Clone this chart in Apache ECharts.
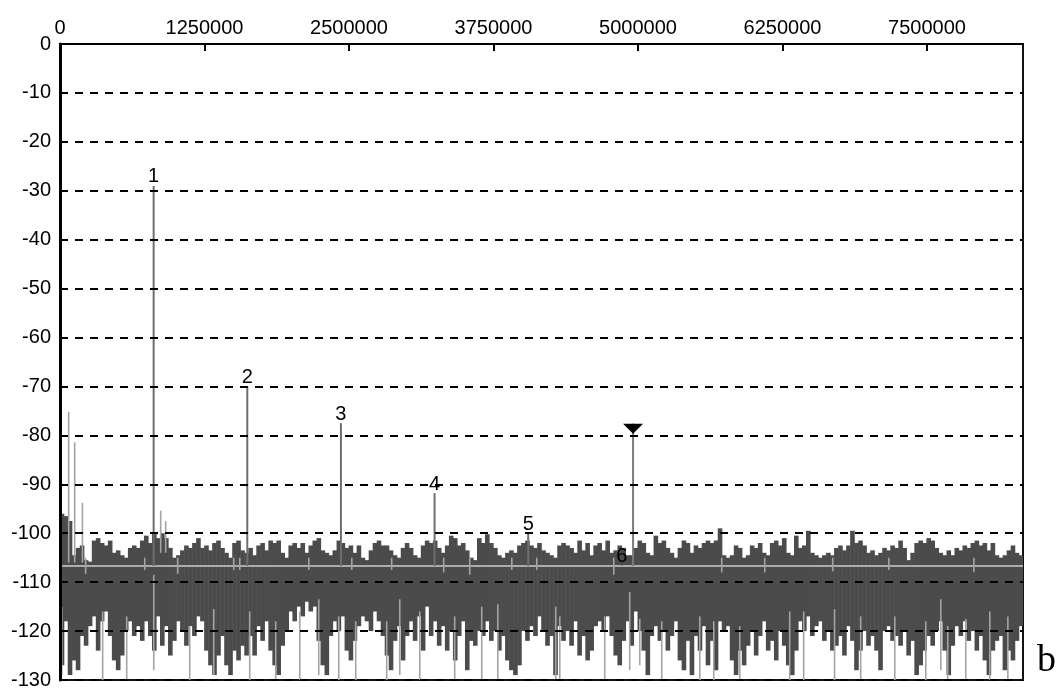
<!DOCTYPE html>
<html><head><meta charset="utf-8">
<script src="https://cdn.jsdelivr.net/npm/echarts@6/dist/echarts.min.js"></script>
<style>html,body{margin:0;padding:0;background:#fff}#c{width:1058px;height:693px}</style>
</head><body><div id="c"></div>
<script>
// ---------- data ----------
const xMax = 8330000;           // Hz, right edge of plot
const xTickStep = 1250000;      // Hz
const binWidth = 34708;         // Hz per displayed noise column
const avgNoiseLevel = -106.7;   // dB, light grey reference line

// noise envelope per column (dB): top and bottom of the dark band
const noiseTop = [
-96,-96.5,-97.5,-104.5,-103,-102.5,-105.5,-105.8,-101.5,-101,
-102,-102.5,-101.5,-104,-103.5,-104.5,-105,-103,-102.5,-103,
-101.5,-100.5,-102,-100,-101,-100,-101,-103,-105,-104.5,
-103.5,-102.5,-103,-102,-101,-103,-102.5,-103.5,-102,-101.5,
-103,-104,-105,-102,-101.5,-103.5,-104,-103,-104.5,-102.5,
-102,-103.5,-101.5,-102,-101.5,-104,-105,-102.5,-102,-103,
-102,-104,-102.5,-101.5,-101,-103.5,-104,-104.5,-103.5,-101.5,
-102,-103,-102.5,-104,-102.5,-105,-105.5,-103.5,-102,-101.5,
-102.5,-102.5,-103.5,-104.5,-105,-103,-102,-103,-104.5,-105,
-102.5,-101.5,-102,-101.5,-103,-104,-102.5,-100.5,-101,-102.5,
-102,-103.5,-105,-105.5,-101,-102,-100.2,-102,-103,-104.5,
-105,-104,-103.5,-104,-102.5,-102,-101.5,-102.5,-103,-102,
-103.5,-104,-104.5,-105,-102.5,-102,-102.5,-103,-104,-101.5,
-103.5,-102,-104.5,-102.5,-102,-103.5,-101.5,-104,-103.5,-102.5,
-103,-104.5,-104.5,-103,-101.5,-102,-104,-104.5,-100.5,-102,
-101.5,-103,-104,-105,-103,-101.5,-102,-104,-102.5,-103,
-102,-101.5,-102,-101.5,-99,-104.5,-105,-104.5,-102.5,-103,
-105,-104.5,-102.5,-103,-102,-104,-104.5,-102,-101.5,-102.5,
-101,-104,-104.5,-100.5,-103,-102.5,-99.5,-104,-104.5,-105,
-104.5,-104,-104.5,-103,-102.5,-103.5,-102.5,-99.5,-102,-101.5,
-102.5,-104,-103.5,-104.5,-104,-103,-103.5,-102.5,-103,-101.5,
-103,-105.5,-104,-102,-101.5,-102,-101,-101.5,-103,-104,
-104.5,-103.5,-104.5,-103,-103.5,-102.5,-103,-102,-101.5,-102.5,
-102,-103.5,-102,-104.5,-105,-104.5,-103.5,-102.5,-104,-104.5
];
const noiseBottom = [
-127,-118,-129,-126,-128,-121,-123,-119,-117,-124,
-118,-116,-121,-126,-128,-125,-120,-118,-121,-119,
-122,-118,-121,-124,-117,-123,-119,-125,-122,-118,
-120,-123,-119,-121,-117,-118,-124,-127,-129,-125,
-121,-127,-129,-124,-126,-123,-125,-121,-125,-119,
-122,-118,-124,-127,-129,-123,-120,-116,-118,-115,
-117,-114,-116,-115,-122,-127,-129,-121,-118,-120,
-117,-124,-126,-122,-119,-117,-118,-120,-116,-118,
-121,-125,-128,-122,-119,-126,-121,-118,-122,-117,
-124,-115,-121,-118,-123,-119,-124,-120,-126,-121,
-118,-128,-122,-123,-120,-121,-118,-122,-120,-124,
-121,-126,-128,-129,-127,-120,-122,-119,-121,-117,
-120,-123,-121,-129,-119,-122,-120,-123,-118,-125,
-121,-126,-124,-119,-118,-120,-117,-121,-125,-127,
-122,-118,-123,-116,-120,-124,-129,-121,-119,-122,
-120,-124,-121,-118,-126,-128,-122,-129,-121,-124,
-119,-127,-122,-128,-118,-120,-119,-126,-129,-124,
-127,-123,-120,-125,-121,-118,-124,-122,-126,-120,
-123,-127,-129,-124,-118,-120,-117,-121,-119,-118,
-122,-120,-124,-123,-121,-125,-119,-122,-128,-124,
-120,-123,-121,-124,-128,-120,-119,-122,-121,-123,
-120,-125,-122,-129,-127,-124,-121,-123,-120,-118,
-124,-129,-123,-119,-121,-118,-122,-120,-124,-121,
-126,-129,-124,-122,-121,-128,-124,-126,-122,-119
];

// light grey single-line spikes of the trace
const lightFreq = [15000,75000,127000,194000,222000,369000,577000,733000,811000,871000,914000,1018000,1122000,1330000,1503000,1555000,1641000,1866000,2074000,2152000,2238000,2411000,2524000,2558000,2826000,2869000,2939000,3112000,3319000,3414000,3544000,3648000,3787000,3908000,4124000,4288000,4323000,4712000,4790000,4928000,5015000,5205000,5534000,5655000,5724000,5880000,6096000,6312000,6433000,6684000,6700000,6926000,7169000,7221000,7489000,7619000,7679000,7835000,7905000,8043000,8199000];
const lightLow  = [-129,-106,-106,-106,-108.3,-130,-130,-107.5,-128,-104,-104,-108.3,-130,-129,-107.5,-107.5,-130,-130,-130,-107.5,-129,-130,-107.5,-130,-130,-107.5,-129,-130,-108,-130,-108.5,-130,-130,-107.5,-107.5,-130,-130,-130,-108.5,-128,-127,-130,-130,-130,-108,-130,-108,-130,-130,-107.8,-130,-130,-107.5,-130,-130,-128,-130,-130,-108,-130,-130];
const lightHigh = [-115,-75.2,-81.4,-93.8,-105,-116,-117,-105,-108.5,-95.4,-97.5,-105,-119,-115.5,-105,-105,-116,-118,-116,-105,-113.5,-117,-105,-118,-118,-105,-113.5,-116,-105,-117,-105,-115,-114.5,-105,-105,-115,-117,-117,-105,-112,-117.5,-118,-117,-118,-105,-119,-105,-116,-116,-105,-115.5,-117,-105,-117,-118,-113.5,-119,-117.5,-105,-116,-117];

// harmonic peaks
const peakLabels = ['1','2','3','4','5','6'];
const peakFreq   = [810000,1620000,2430000,3240000,4050000,4860000];
const peakLevel  = [-29,-70,-77.5,-91.8,-100,-106.6];

// marker
const markerFreq = 4957000;
const markerLevel = -77.6;

// ---------- chart ----------
const FONT = '"Liberation Sans","Arial",sans-serif';
const noiseData = noiseTop.map((t, i) => [(i + 0.5) * binWidth, noiseBottom[i], t]);
const lightData = lightFreq.map((f, i) => [f, lightLow[i], lightHigh[i]]);
const peakData = peakFreq.map((f, i) => [f, peakLevel[i], peakLabels[i]]);

const chart = echarts.init(document.getElementById('c'), null, {renderer: 'canvas'});
chart.setOption({
  animation: false,
  backgroundColor: '#fff',
  grid: {left: 60, right: 35, top: 44, bottom: 13, show: true, borderColor: '#111', borderWidth: 2},
  xAxis: {
    type: 'value', position: 'top', min: 0, max: xMax, interval: xTickStep, z: 10,
    axisLine: {show: true, lineStyle: {color: '#000', width: 2}},
    axisTick: {show: true, inside: true, length: 7, lineStyle: {color: '#000', width: 2}},
    axisLabel: {fontFamily: FONT, fontSize: 20, color: '#000', margin: 6, showMaxLabel: false,
                formatter: function (v) { return String(v); }},
    splitLine: {show: false}
  },
  yAxis: {
    type: 'value', min: -130, max: 0, interval: 10, z: 10,
    axisLine: {show: true, lineStyle: {color: '#000', width: 3}},
    axisTick: {show: false},
    axisLabel: {fontFamily: FONT, fontSize: 20, color: '#000', margin: 9,
                formatter: function (v) { return String(v); }},
    splitLine: {show: true, lineStyle: {color: '#000', width: 2, type: [8, 7]}}
  },
  graphic: [{
    type: 'text', left: 1037, top: 642,
    style: {text: 'b', font: '38px "Liberation Serif", "DejaVu Serif", serif', fill: '#000'}
  }],
  series: [
    {
      type: 'custom', name: 'noise', clip: true, z: 2,
      data: noiseData,
      renderItem: function (params, api) {
        const w = api.size([binWidth, 0])[0];
        const top = api.coord([api.value(0), api.value(2)]);
        const bot = api.coord([api.value(0), api.value(1)]);
        return {type: 'rect', shape: {x: top[0] - w / 2 - 0.3, y: top[1], width: w + 0.6, height: bot[1] - top[1]},
                style: {fill: '#4b4b4b'}};
      }
    },
    {
      type: 'line', name: 'avg', z: 3, symbol: 'none', silent: true,
      data: [[0, avgNoiseLevel], [xMax, avgNoiseLevel]],
      lineStyle: {color: '#acacac', width: 2}
    },
    {
      type: 'custom', name: 'light', clip: true, z: 4,
      data: lightData,
      renderItem: function (params, api) {
        const a = api.coord([api.value(0), api.value(1)]);
        const b = api.coord([api.value(0), api.value(2)]);
        return {type: 'line', shape: {x1: a[0], y1: a[1], x2: b[0], y2: b[1]},
                style: {stroke: '#a4a4a4', lineWidth: 1.6}};
      }
    },
    {
      type: 'custom', name: 'peaks', clip: false, z: 5,
      data: peakData,
      renderItem: function (params, api) {
        const a = api.coord([api.value(0), avgNoiseLevel]);
        const b = api.coord([api.value(0), api.value(1)]);
        return {type: 'group', children: [
          {type: 'line', shape: {x1: a[0], y1: a[1], x2: b[0], y2: b[1]}, style: {stroke: '#6e6e6e', lineWidth: 2}},
          {type: 'text', style: {text: peakLabels[params.dataIndex], x: b[0], y: b[1] + 1, align: 'center', verticalAlign: 'bottom',
                                 font: '20px ' + FONT, fill: '#000'}}
        ]};
      }
    },
    {
      type: 'custom', name: 'marker', clip: false, z: 6,
      data: [[markerFreq, markerLevel]],
      renderItem: function (params, api) {
        const a = api.coord([api.value(0), avgNoiseLevel]);
        const b = api.coord([api.value(0), api.value(1)]);
        return {type: 'group', children: [
          {type: 'line', shape: {x1: a[0], y1: a[1], x2: b[0], y2: b[1]}, style: {stroke: '#7a7a7a', lineWidth: 2}},
          {type: 'polygon', shape: {points: [[b[0] - 10, b[1]], [b[0] + 10, b[1]], [b[0], b[1] + 10]]}, style: {fill: '#000'}}
        ]};
      }
    }
  ]
});
</script></body></html>
